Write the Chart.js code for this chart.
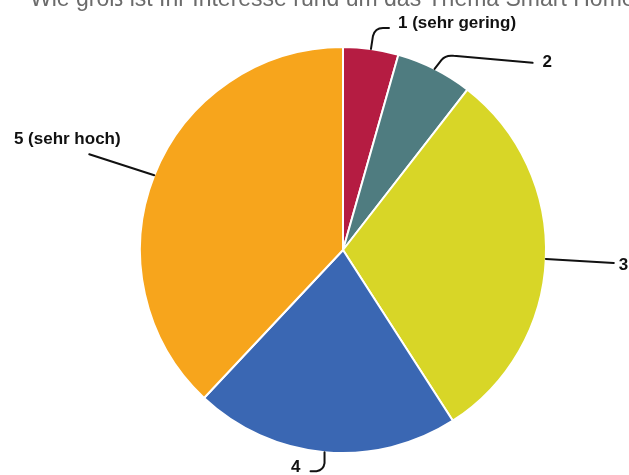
<!DOCTYPE html>
<html>
<head>
<meta charset="utf-8">
<script src="https://cdn.jsdelivr.net/npm/chart.js@4"></script>
<style>
  html, body { margin: 0; padding: 0; background: #ffffff; overflow: hidden; }
  #wrap { width: 629px; height: 475px; position: relative; }
</style>
</head>
<body>
<div id="wrap"><canvas id="c" width="629" height="475"></canvas></div>
<script>
// ---- data ----
const titleText = "Wie groß ist Ihr Interesse rund um das Thema Smart Home?";
const categories = ["1 (sehr gering)", "2", "3", "4", "5 (sehr hoch)"];
const shares = [4.4, 6.1, 30.4, 21.1, 38.0];
const sliceColors = ["#B51C42", "#4F7C80", "#D8D627", "#3A67B3", "#F7A51C"];

// ---- label leader-line styling (relative to each slice's mid-angle point on the rim) ----
const leaderStyles = [
  { path: [["M",0,0],["L",2,-13],["Q",4,-21,12,-21],["L",18,-21]], text: [27,-26], align: "left" },
  { path: [["M",0,0],["L",7,-9],["Q",11,-14,19,-13],["L",98,-6]], text: [108,-7], align: "left" },
  { path: [["M",0,0],["L",68,4]], text: [73,6], align: "left" },
  { path: [["M",0,0],["L",0,11],["Q",-1,18,-8,19],["L",-14,19]], text: [-24,15], align: "right" },
  { path: [["M",0,0],["L",-65,-21]], text: [-87,-36], align: "center" }
];

const labelPlugin = {
  id: "leaderLabels",
  afterDraw(chart) {
    const ctx = chart.ctx;
    // title (cut off at the top, as in the source image)
    ctx.save();
    ctx.font = "23px 'Liberation Sans', Arial, sans-serif";
    ctx.fillStyle = "#6b6b6b";
    ctx.textAlign = "left";
    ctx.textBaseline = "alphabetic";
    ctx.fillText(titleText, 30, 6);
    ctx.restore();

    const meta = chart.getDatasetMeta(0);
    meta.data.forEach((arc, i) => {
      const p = arc.getProps(["x","y","startAngle","endAngle","outerRadius"], true);
      const mid = (p.startAngle + p.endAngle) / 2;
      const ax = p.x + Math.cos(mid) * p.outerRadius;
      const ay = p.y + Math.sin(mid) * p.outerRadius;
      const st = leaderStyles[i];
      ctx.save();
      ctx.strokeStyle = "#111111";
      ctx.lineWidth = 2;
      ctx.lineCap = "round";
      ctx.lineJoin = "round";
      ctx.beginPath();
      st.path.forEach(cmd => {
        if (cmd[0] === "M") ctx.moveTo(ax + cmd[1], ay + cmd[2]);
        else if (cmd[0] === "L") ctx.lineTo(ax + cmd[1], ay + cmd[2]);
        else if (cmd[0] === "Q") ctx.quadraticCurveTo(ax + cmd[1], ay + cmd[2], ax + cmd[3], ay + cmd[4]);
      });
      ctx.stroke();
      ctx.font = "bold 17px 'Liberation Sans', Arial, sans-serif";
      ctx.fillStyle = "#111111";
      ctx.textAlign = st.align;
      ctx.textBaseline = "middle";
      ctx.fillText(categories[i], ax + st.text[0], ay + st.text[1]);
      ctx.restore();
    });
  }
};

new Chart(document.getElementById("c"), {
  type: "pie",
  data: {
    labels: categories,
    datasets: [{
      data: shares,
      backgroundColor: sliceColors,
      borderColor: "#ffffff",
      borderWidth: 2
    }]
  },
  options: {
    responsive: false,
    animation: false,
    layout: { padding: { top: 46, bottom: 21, left: 139, right: 82 } },
    plugins: {
      legend: { display: false },
      tooltip: { enabled: false },
      title: { display: false }
    }
  },
  plugins: [labelPlugin]
});
</script>
</body>
</html>
